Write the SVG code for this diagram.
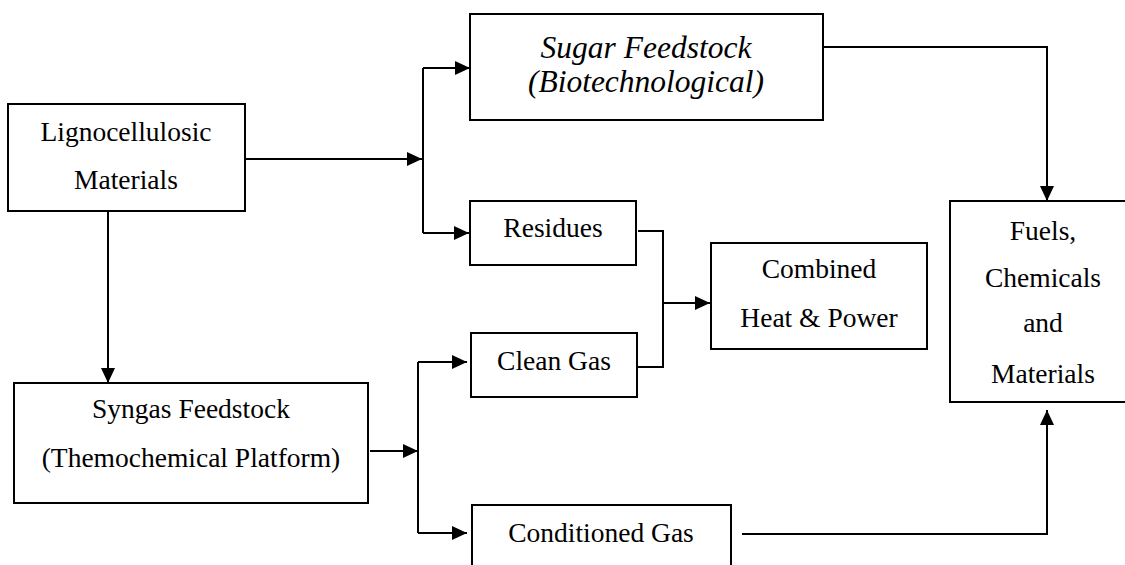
<svg xmlns="http://www.w3.org/2000/svg" width="1125" height="565" viewBox="0 0 1125 565">
<style>
.box{fill:#fff;stroke:#000;stroke-width:2}
.t{font-family:"Liberation Serif","Times New Roman",serif;font-size:27.5px;fill:#000;text-anchor:middle}
.ti{font-family:"Liberation Serif","Times New Roman",serif;font-size:31.5px;font-style:italic;fill:#000;text-anchor:middle}
.c{fill:none;stroke:#000;stroke-width:2}
</style>
<defs>
<marker id="ah" markerUnits="userSpaceOnUse" markerWidth="16" markerHeight="14" refX="15" refY="7" orient="auto">
<path d="M0,0 L15,7 L0,14 Z" fill="#000"/>
</marker>
</defs>
<rect width="1125" height="565" fill="#fff"/>
<g id="connectors">
<path class="c" d="M245,159 H422" marker-end="url(#ah)"/>
<path class="c" d="M423,68 V233"/>
<path class="c" d="M423,68 H470" marker-end="url(#ah)"/>
<path class="c" d="M423,233 H469" marker-end="url(#ah)"/>
<path class="c" d="M823,47 H1047 V201" marker-end="url(#ah)"/>
<path class="c" d="M108,211 V383" marker-end="url(#ah)"/>
<path class="c" d="M370,451 H418" marker-end="url(#ah)"/>
<path class="c" d="M418,362 V533"/>
<path class="c" d="M418,362 H467" marker-end="url(#ah)"/>
<path class="c" d="M418,533 H467" marker-end="url(#ah)"/>
<path class="c" d="M638,231 H663 V367 H638"/>
<path class="c" d="M663,303 H710" marker-end="url(#ah)"/>
<path class="c" d="M742,534 H1047 V410" marker-end="url(#ah)"/>
</g>
<g id="ligno">
<rect class="box" x="8" y="104" width="237" height="107"/>
<text class="t" x="126" y="141">Lignocellulosic</text>
<text class="t" x="126" y="189">Materials</text>
</g>
<g id="sugar">
<rect class="box" x="470" y="14" width="353" height="106"/>
<text class="ti" x="646" y="58">Sugar Feedstock</text>
<text class="ti" x="646" y="92">(Biotechnological)</text>
</g>
<g id="residues">
<rect class="box" x="470" y="201" width="166" height="64"/>
<text class="t" x="553" y="237">Residues</text>
</g>
<g id="cleangas">
<rect class="box" x="471" y="333" width="166" height="64"/>
<text class="t" x="554" y="370">Clean Gas</text>
</g>
<g id="chp">
<rect class="box" x="711" y="243" width="216" height="106"/>
<text class="t" x="819" y="278">Combined</text>
<text class="t" x="819" y="327">Heat &amp; Power</text>
</g>
<g id="fuels">
<rect class="box" x="950" y="201" width="186" height="201"/>
<text class="t" x="1043" y="240">Fuels,</text>
<text class="t" x="1043" y="287">Chemicals</text>
<text class="t" x="1043" y="332">and</text>
<text class="t" x="1043" y="383">Materials</text>
</g>
<g id="syngas">
<rect class="box" x="14" y="383" width="354" height="120"/>
<text class="t" x="191" y="418">Syngas Feedstock</text>
<text class="t" x="191" y="467">(Themochemical Platform)</text>
</g>
<g id="conditioned">
<rect class="box" x="472" y="505" width="259" height="80"/>
<text class="t" x="601" y="542">Conditioned Gas</text>
</g>
</svg>
